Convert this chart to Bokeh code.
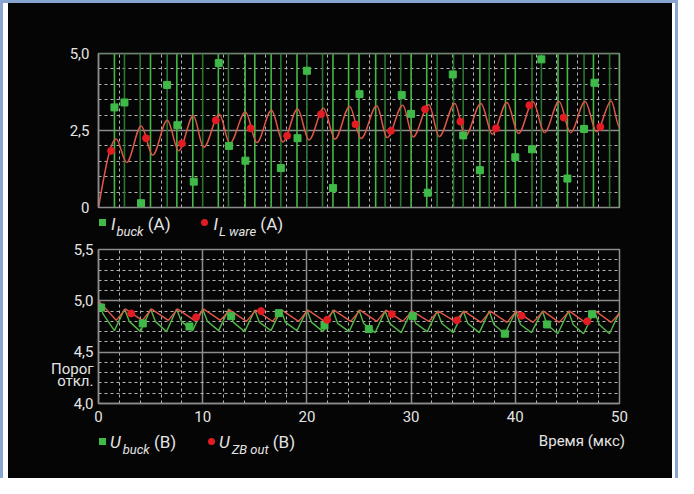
import numpy as np
from bokeh.plotting import figure
from bokeh.layouts import column, row
from bokeh.models import FixedTicker, Span, Range1d, CustomJSTickFormatter, Spacer, Div
from bokeh.embed import file_html
from bokeh.resources import INLINE

# ---------------- data ----------------
# top panel: I_buck switching edges (us)
ibuck_edges = [1.53, 2.49, 4.0, 4.99, 6.59, 7.52, 9.05, 10.0, 11.5, 12.47, 14.07, 15.0,
               16.57, 17.5, 19.05, 20.0, 21.5, 22.5, 24.0, 25.0, 26.6, 27.5, 29.0, 30.0,
               31.5, 32.5, 34.07, 35.0, 36.6, 37.5, 39.06, 40.0, 41.6, 42.5, 44.1, 45.0,
               46.6, 47.5, 49.05, 50.0]
ibuck_edge_bright = [1, 0, 0, 1, 0, 1, 1, 0, 1, 0, 1, 1, 1, 0, 1, 0, 0, 1, 1, 1,
                     1, 0, 0, 1, 1, 0, 0, 0, 1, 0, 1, 1, 0, 0, 1, 1, 0, 1, 0, 1]
ibuck_pts_t = [1.53, 2.49, 4.08, 6.58, 7.57, 9.14, 11.54, 12.53, 14.1, 17.5, 19.1, 20.0,
               22.5, 25.05, 29.1, 30.0, 31.6, 34.0, 35.0, 36.6, 40.0, 41.6, 42.5, 45.0,
               46.6, 47.6]
ibuck_pts_v = [3.25, 3.41, 0.14, 3.98, 2.67, 0.84, 4.69, 2.0, 1.52, 1.28, 2.25, 4.44,
               0.63, 3.68, 3.65, 3.04, 0.48, 4.32, 2.34, 1.21, 1.63, 1.89, 4.81, 0.94,
               2.55, 4.05]
# I_L ware: extrema of the oscillating waveform
il_t = [0, 1.7, 2.7, 4.1, 5.2, 6.6, 7.7, 9.1, 10.1, 11.6, 12.6, 14.1, 15.2, 16.6, 17.7,
        19.1, 20.2, 21.6, 22.7, 24.1, 25.2, 26.7, 27.7, 29.2, 30.2, 31.7, 32.7, 34.2,
        35.2, 36.7, 37.8, 39.2, 40.3, 41.7, 42.8, 44.2, 45.3, 46.7, 47.8, 49.2, 50.0]
il_v = [0, 2.22, 1.46, 2.65, 1.70, 2.83, 1.84, 2.98, 1.95, 3.03, 2.08, 3.10, 2.11, 3.16,
        2.13, 3.20, 2.19, 3.22, 2.22, 3.28, 2.24, 3.30, 2.27, 3.32, 2.29, 3.34, 2.30, 3.38,
        2.32, 3.38, 2.38, 3.41, 2.40, 3.43, 2.43, 3.44, 2.43, 3.44, 2.46, 3.46, 2.60]
il_pts_t = [1.21, 4.56, 8.0, 11.26, 14.6, 18.1, 21.36, 24.66, 28.07, 31.34, 34.73, 38.15,
            41.35, 44.64, 48.16]
il_pts_v = [1.84, 2.25, 2.08, 2.83, 2.57, 2.33, 3.03, 2.70, 2.49, 3.19, 2.79, 2.57, 3.32,
            2.92, 2.62]

# bottom panel
ubuck_t = [0, 0.45, 1.53, 2.5, 2.95, 4.03, 5.0, 5.45, 6.53, 7.5, 7.95, 9.03, 10.0, 10.45,
           11.53, 12.5, 12.95, 14.03, 15.0, 15.45, 16.55, 17.5, 17.95, 19.05, 20.0, 20.45,
           21.55, 22.5, 22.95, 24.05, 25.0, 25.45, 26.55, 27.5, 27.95, 29.05, 30.0, 30.45,
           31.55, 32.5, 32.95, 34.05, 35.0, 35.45, 36.55, 37.5, 37.95, 39.0, 40.05, 40.5,
           41.55, 42.6, 43.05, 44.08, 45.1, 45.55, 46.55, 47.6, 48.05, 49.04, 50.0]
ubuck_v = [4.99, 4.87, 4.71, 4.92, 4.80, 4.70, 4.92, 4.80, 4.70, 4.92, 4.80, 4.71, 4.92,
           4.80, 4.71, 4.92, 4.79, 4.70, 4.91, 4.79, 4.71, 4.91, 4.79, 4.71, 4.91, 4.79,
           4.70, 4.91, 4.78, 4.70, 4.91, 4.78, 4.69, 4.90, 4.78, 4.69, 4.90, 4.78, 4.70,
           4.90, 4.78, 4.69, 4.90, 4.78, 4.69, 4.90, 4.77, 4.68, 4.90, 4.77, 4.69, 4.90,
           4.77, 4.68, 4.90, 4.77, 4.68, 4.90, 4.77, 4.68, 4.89]
uzb_t = [0, 1.7, 2.6, 4.2, 5.1, 6.7, 7.6, 9.2, 10.1, 11.7, 12.6, 14.2, 15.1, 16.7, 17.6,
         19.2, 20.1, 21.7, 22.6, 24.2, 25.1, 26.7, 27.6, 29.2, 30.1, 31.7, 32.6, 34.2, 35.1,
         36.7, 37.6, 39.2, 40.1, 41.7, 42.7, 44.2, 45.2, 46.7, 47.7, 49.2, 50.0]
uzb_v = [5.0, 4.81, 4.92, 4.81, 4.92, 4.81, 4.92, 4.81, 4.92, 4.81, 4.91, 4.80, 4.91, 4.80,
         4.91, 4.80, 4.91, 4.80, 4.91, 4.80, 4.91, 4.80, 4.91, 4.80, 4.90, 4.80, 4.90, 4.80,
         4.90, 4.79, 4.90, 4.79, 4.90, 4.79, 4.90, 4.79, 4.90, 4.79, 4.90, 4.79, 4.88]
ubuck_pts_t = [0.25, 4.25, 8.73, 12.73, 17.3, 21.69, 25.94, 30.16, 39.0, 43.05, 47.37]
ubuck_pts_v = [4.935, 4.78, 4.75, 4.85, 4.88, 4.76, 4.725, 4.85, 4.68, 4.77, 4.87]
uzb_pts_t = [3.13, 9.37, 15.6, 21.94, 28.15, 34.39, 40.6, 46.9]
uzb_pts_v = [4.877, 4.84, 4.90, 4.815, 4.87, 4.81, 4.855, 4.80]

top_ticks = [0, 2.5, 5.0]
top_minor = [0.5, 1.0, 1.5, 2.0, 3.0, 3.5, 4.0, 4.5]
bot_ticks = [4.0, 4.5, 5.0, 5.5]
bot_minor = [4.1, 4.2, 4.3, 4.4, 4.6, 4.7, 4.8, 4.9, 5.1, 5.2, 5.3, 5.4]
x_ticks = [0, 10, 20, 30, 40, 50]
x_minor = [2, 4, 6, 8, 12, 14, 16, 18, 22, 24, 26, 28, 32, 34, 36, 38, 42, 44, 46, 48]
thresh_label = ["Порог", "откл."]
x_title = "Время (мкс)"

# ---------------- styles ----------------
BG = "#050505"
TXT = "#e4e4e4"
GRID_SOLID = "#8c8c8c"
GRID_DASH = "#b4b4b4"
GREEN = "#3fba48"
GREEN_BRIGHT = "#46b646"
GREEN_DARK = "#2b7531"
RED = "#e31b23"
RED_LINE = "#e0574a"
FONT = "Roboto"
BLUE = "#88a5cf"
THRESH_Y = [4.336, 4.219]   # vertical placement of the two lines of the threshold caption

fmt = CustomJSTickFormatter(code="return tick == 0 ? '0' : tick.toFixed(1).replace('.', ',');")
fmt2 = CustomJSTickFormatter(
    args=dict(ty=THRESH_Y, tl=thresh_label),
    code="""
for (let i = 0; i < ty.length; i++) { if (Math.abs(tick - ty[i]) < 1e-6) return tl[i]; }
return tick.toFixed(1).replace('.', ',');
""")


def base(p):
    p.background_fill_color = BG
    p.border_fill_color = BG
    p.outline_line_color = GRID_SOLID
    p.outline_line_width = 1.5
    for ax in p.axis:
        ax.axis_line_color = GRID_SOLID
        ax.axis_line_width = 1.5
        ax.major_tick_in = 0
        ax.major_tick_out = 0
        ax.minor_tick_line_color = None
        ax.major_label_text_color = TXT
        ax.major_label_text_font = FONT
        ax.major_label_text_font_size = "15px"
    p.yaxis.major_label_standoff = 5
    p.ygrid.grid_line_color = GRID_SOLID
    p.ygrid.grid_line_width = 1.5
    p.ygrid.minor_grid_line_color = GRID_DASH
    p.ygrid.minor_grid_line_dash = "3 3"
    p.ygrid.minor_grid_line_width = 1
    p.xgrid.minor_grid_line_color = GRID_DASH
    p.xgrid.minor_grid_line_dash = "3 3"
    p.xgrid.minor_grid_line_width = 1
    p.xgrid.ticker = FixedTicker(ticks=x_ticks, minor_ticks=x_minor)


# ---------------- top panel ----------------
p1 = figure(width=664, height=205, x_range=Range1d(0, 50), y_range=Range1d(0, 5),
            output_backend="svg", toolbar_location=None,
            min_border_left=90, min_border_right=53, min_border_top=42, min_border_bottom=9)
base(p1)
p1.xaxis.visible = False
p1.yaxis.ticker = FixedTicker(ticks=top_ticks, minor_ticks=top_minor)
p1.yaxis.formatter = fmt
p1.ygrid.ticker = FixedTicker(ticks=top_ticks, minor_ticks=top_minor)
p1.xgrid.grid_line_color = GRID_DASH
p1.xgrid.grid_line_dash = "3 3"
p1.xgrid.grid_line_width = 1

edge_colors = [GREEN_BRIGHT if b else GREEN_DARK for b in ibuck_edge_bright]
p1.segment(x0=ibuck_edges, y0=[top_ticks[0]] * len(ibuck_edges), x1=ibuck_edges,
           y1=[top_ticks[-1]] * len(ibuck_edges), line_color=edge_colors, line_width=1.6)
p1.add_layout(Span(location=top_ticks[-1], dimension="width", line_color="#4c7a4c", line_width=1.5))

# smooth I_L curve through the read extrema (cubic Bezier between extrema)
t = np.array(il_t, dtype=float)
v = np.array(il_v, dtype=float)
x0, x1, y0, y1 = t[:-1], t[1:], v[:-1], v[1:]
dx = x1 - x0
cx0 = x0 + dx / 3
cy0 = y0.copy()
cx1 = x1 - dx / 3
cy1 = y1.copy()
cy0[0] = y0[0] + (y1[0] - y0[0]) / 2  # steep start of the first rise
p1.bezier(x0=x0, y0=y0, x1=x1, y1=y1, cx0=cx0, cy0=cy0, cx1=cx1, cy1=cy1,
          line_color=RED_LINE, line_width=1.5)

p1.scatter(ibuck_pts_t, ibuck_pts_v, marker="square", size=7, fill_color=GREEN, line_color=GREEN)
p1.scatter(il_pts_t, il_pts_v, marker="circle", size=7, fill_color=RED, line_color=RED)

# ---------------- bottom panel ----------------
p2 = figure(width=664, height=194, x_range=Range1d(0, 50), y_range=Range1d(4.0, 5.5),
            output_backend="svg", toolbar_location=None,
            min_border_left=90, min_border_right=53, min_border_top=10, min_border_bottom=30)
base(p2)
p2.yaxis.ticker = FixedTicker(ticks=bot_ticks + THRESH_Y)
p2.yaxis.formatter = fmt2
p2.ygrid.ticker = FixedTicker(ticks=bot_ticks, minor_ticks=bot_minor)
p2.xaxis.ticker = FixedTicker(ticks=x_ticks)
p2.xaxis.major_label_standoff = 7
p2.xgrid.grid_line_color = GRID_SOLID
p2.xgrid.grid_line_width = 1.5

p2.line(ubuck_t, ubuck_v, line_color="#52b548", line_width=1.4)
p2.line(uzb_t, uzb_v, line_color=RED_LINE, line_width=1.4)
p2.scatter(ubuck_pts_t, ubuck_pts_v, marker="square", size=7, fill_color=GREEN, line_color=GREEN)
p2.scatter(uzb_pts_t, uzb_pts_v, marker="circle", size=7, fill_color=RED, line_color=RED)


# ---------------- legends (HTML text with italics / subscripts) ----------------
def item(left, top, marker_css, mleft, mtop, main, sub, unit, sub_dx=1):
    return (
        f'<div style="position:absolute;left:{mleft}px;top:{mtop}px;width:7px;height:7px;{marker_css}"></div>'
        f'<div style="position:absolute;left:{left}px;top:{top}px;font-size:17px;line-height:17px;white-space:nowrap;">'
        f'<i>{main}</i><i style="font-size:13px;position:relative;top:6px;margin-left:{sub_dx}px;">{sub}</i>'
        f'&nbsp;{unit}</div>'
    )


SQ = f"background:{GREEN};"
CI = f"background:{RED};border-radius:50%;"
box = (f"position:relative;overflow:visible;background:{BG};color:{TXT};"
       f"font-family:{FONT},sans-serif;width:664px;")

top_html = (f'<div style="{box}height:24px;">'
            + item(103, 0, SQ, 90.5, 3.2, "I", "buck", "(A)")
            + item(205.5, 0, CI, 193, 2.5, "I", "L ware", "(A)")
            + '</div>')
bot_html = (f'<div style="{box}height:45px;">'
            + item(102, 1.4, SQ, 90.5, 4.5, "U", "buck", "(B)", 2)
            + item(211, 1.4, CI, 199.5, 4.5, "U", "ZB out", "(B)", 2)
            + f'<div style="position:absolute;right:47px;top:0.7px;font-size:15px;line-height:15px;'
              f'white-space:nowrap;">{x_title}</div>'
            + '</div>')

leg_top = Div(text=top_html, width=664, height=23, margin=(0, 0, 0, 0),
              styles={"background-color": BG})
leg_bot = Div(text=bot_html, width=664, height=45, margin=(0, 0, 0, 0),
              styles={"background-color": BG})

# ---------------- page frame (white margin + light-blue rule) ----------------
blue = {"background-color": BLUE}
inner = column(Spacer(width=664, height=8), p1, leg_top, p2, leg_bot, spacing=0,
               styles={"background-color": BG})
body = row(Spacer(width=3, height=475, styles=blue), Spacer(width=5, height=475), inner,
           Spacer(width=3, height=475), Spacer(width=3, height=475, styles=blue), spacing=0)
root = column(Spacer(width=678, height=3, styles=blue), body, spacing=0)

open("out.html", "w", encoding="utf-8").write(file_html(root, INLINE))
